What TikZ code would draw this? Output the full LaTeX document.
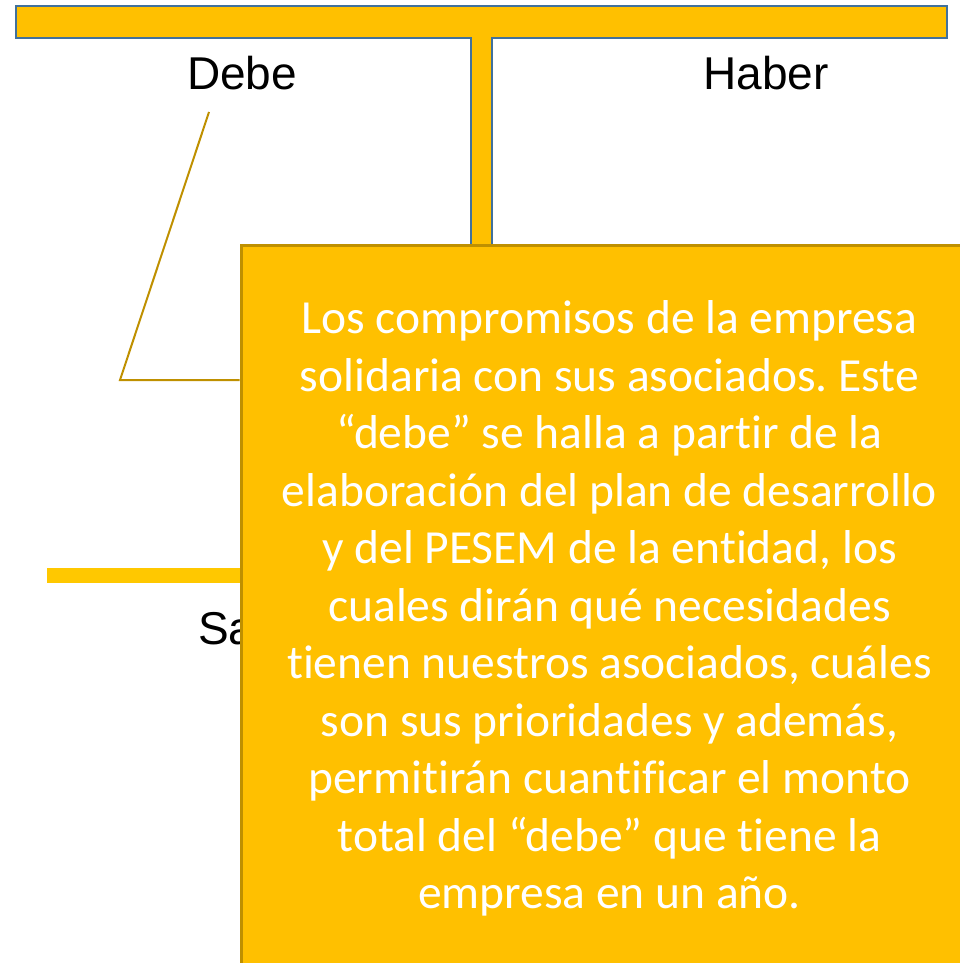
\documentclass[tikz,border=0pt]{standalone}
\usepackage{fontspec}
\setmainfont{Liberation Sans}
\newfontfamily\calloutfont[Ligatures=NoCommon]{Carlito}
\frenchspacing
\definecolor{tbar}{HTML}{FFC000}
\definecolor{tedge}{HTML}{41719C}
\definecolor{cedge}{HTML}{BF9000}
\definecolor{sline}{HTML}{FFC800}
\tikzset{
  label text/.style={font=\fontsize{46}{52}\selectfont, text=black, inner sep=0pt},
  callout box/.style={draw=cedge, line width=3pt, fill=tbar, text=white, align=center,
    font=\calloutfont\fontsize{47.5}{57.5}\selectfont, minimum width=737pt, minimum height=727pt}
}
\begin{document}
\begin{tikzpicture}[x=1pt, y=-1pt]
      \useasboundingbox (0,0) rectangle (959,963);
      % T account bar and stem
      \draw[line width=2.5pt, draw=tedge, fill=tbar]
        (16,6) -- (947,6) -- (947,38) -- (492,38) -- (492,270) -- (471,270) -- (471,38) -- (16,38) -- cycle;
      \node[label text, anchor=base] (debe) at (242,90) {Debe};
      \node[label text, anchor=base] (haber) at (766,90) {Haber};
      % balance line
      \draw[line width=15pt, draw=sline] (47,575.5) -- (300,575.5);
      \node[label text, anchor=base west] (saldo) at (198,644) {Sa};
      % callout box with text
      \node[callout box] (box) at (609.5,608.5) {Los compromisos de la empresa\\
        solidaria con sus asociados. Este\\
        “debe” se halla a partir de la\\
        elaboración del plan de desarrollo\\
        y del PESEM de la entidad, los\\
        cuales dirán qué necesidades\\
        tienen nuestros asociados, cuáles\\
        son sus prioridades y además,\\
        permitirán cuantificar el monto\\
        total del “debe” que tiene la\\
        empresa en un año.};
      % pointer from the box to Debe
      \coordinate (tip) at (209,112);
      \coordinate (knee) at (120,380);
      \draw[line width=2pt, draw=cedge] (tip) -- (knee) -- (box.west |- knee);
    \end{tikzpicture}
\end{document}
